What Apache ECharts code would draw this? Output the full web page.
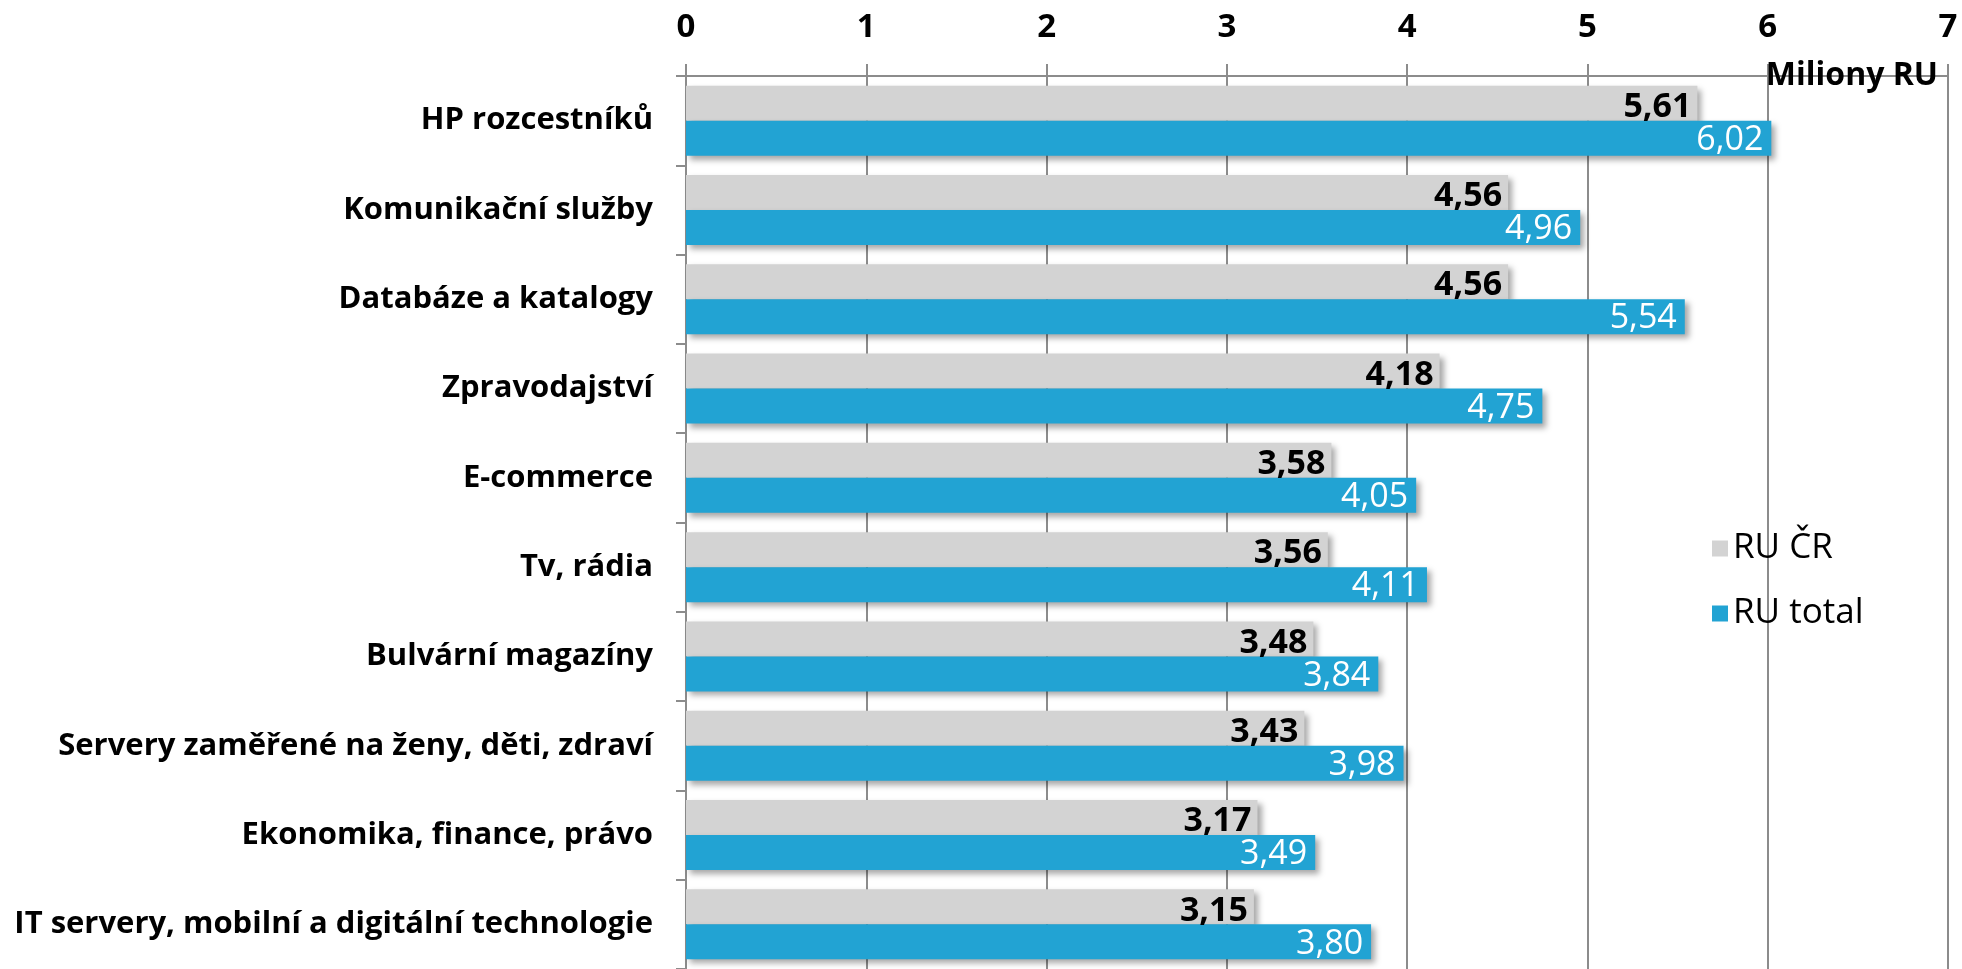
<!DOCTYPE html>
<html>
<head>
<meta charset="utf-8">
<script src="https://cdn.jsdelivr.net/npm/echarts@6/dist/echarts.min.js"></script>
<style>
  html, body { margin: 0; padding: 0; background: #fff; }
  #chart { width: 1962px; height: 969px; }
</style>
</head>
<body>
<div id="chart"></div>
<script>
// kategorie a hodnoty (miliony RU)
var categories = [
  'HP rozcestníků',
  'Komunikační služby',
  'Databáze a katalogy',
  'Zpravodajství',
  'E-commerce',
  'Tv, rádia',
  'Bulvární magazíny',
  'Servery zaměřené na ženy, děti, zdraví',
  'Ekonomika, finance, právo',
  'IT servery, mobilní a digitální technologie'
];
var ruCR = [5.61, 4.56, 4.56, 4.18, 3.58, 3.56, 3.48, 3.43, 3.17, 3.15];
var ruTotal = [6.02, 4.96, 5.54, 4.75, 4.05, 4.11, 3.84, 3.98, 3.49, 3.80];
var xTicks = [0, 1, 2, 3, 4, 5, 6, 7];

var font = '"Open Sans", Lato, sans-serif';
var lineColor = '#8c8c8c';

function czNum(p) {
  return p.value.toFixed(2).replace('.', ',');
}

var myChart = echarts.init(document.getElementById('chart'));

var option = {
  backgroundColor: '#fff',
  animation: false,
  textStyle: { fontFamily: font },
  title: {
    text: 'Miliony RU',
    right: 19,
    top: 55,
    textStyle: { fontFamily: font, fontSize: 32, fontWeight: 'bold', color: '#000' }
  },
  legend: {
    orient: 'vertical',
    left: 1707,
    top: 526,
    icon: 'rect',
    itemWidth: 16,
    itemHeight: 16,
    itemGap: 30,
    textStyle: { fontFamily: font, fontSize: 35, color: '#000' },
    data: ['RU ČR', 'RU total']
  },
  grid: {
    left: 686,
    right: 14,
    top: 76,
    height: 894
  },
  xAxis: {
    type: 'value',
    position: 'top',
    min: xTicks[0],
    max: xTicks[xTicks.length - 1],
    interval: 1,
    axisLine: { show: true, lineStyle: { color: lineColor, width: 2 } },
    axisTick: { show: true, length: 12, lineStyle: { color: lineColor, width: 2 } },
    splitLine: { show: true, lineStyle: { color: lineColor, width: 2 } },
    axisLabel: {
      margin: 32,
      fontFamily: font,
      fontSize: 33,
      fontWeight: 'bold',
      color: '#000'
    }
  },
  yAxis: {
    type: 'category',
    inverse: true,
    data: categories,
    axisLine: { show: true, lineStyle: { color: lineColor, width: 2 } },
    axisTick: { show: true, length: 10, lineStyle: { color: lineColor, width: 2 } },
    axisLabel: {
      margin: 33,
      fontFamily: font,
      fontSize: 31,
      fontWeight: 'bold',
      color: '#000'
    }
  },
  series: [
    {
      name: 'RU ČR',
      type: 'bar',
      data: ruCR,
      barWidth: 35,
      barGap: '0%',
      itemStyle: {
        color: '#d3d3d3',
        shadowColor: 'rgba(0,0,0,0.35)',
        shadowBlur: 6,
        shadowOffsetX: 4,
        shadowOffsetY: 4
      },
      label: {
        show: true,
        position: 'insideRight',
        distance: 6,
        offset: [0, 4],
        formatter: czNum,
        fontFamily: font,
        fontSize: 34,
        fontWeight: 'bold',
        color: '#000'
      }
    },
    {
      name: 'RU total',
      type: 'bar',
      data: ruTotal,
      barWidth: 35,
      barGap: '0%',
      itemStyle: {
        color: '#22a3d3',
        shadowColor: 'rgba(0,0,0,0.35)',
        shadowBlur: 6,
        shadowOffsetX: 4,
        shadowOffsetY: 4
      },
      label: {
        show: true,
        position: 'insideRight',
        distance: 8,
        offset: [0, 2],
        formatter: czNum,
        fontFamily: font,
        fontSize: 34,
        color: '#fff'
      }
    }
  ]
};

myChart.setOption(option);
</script>
</body>
</html>
